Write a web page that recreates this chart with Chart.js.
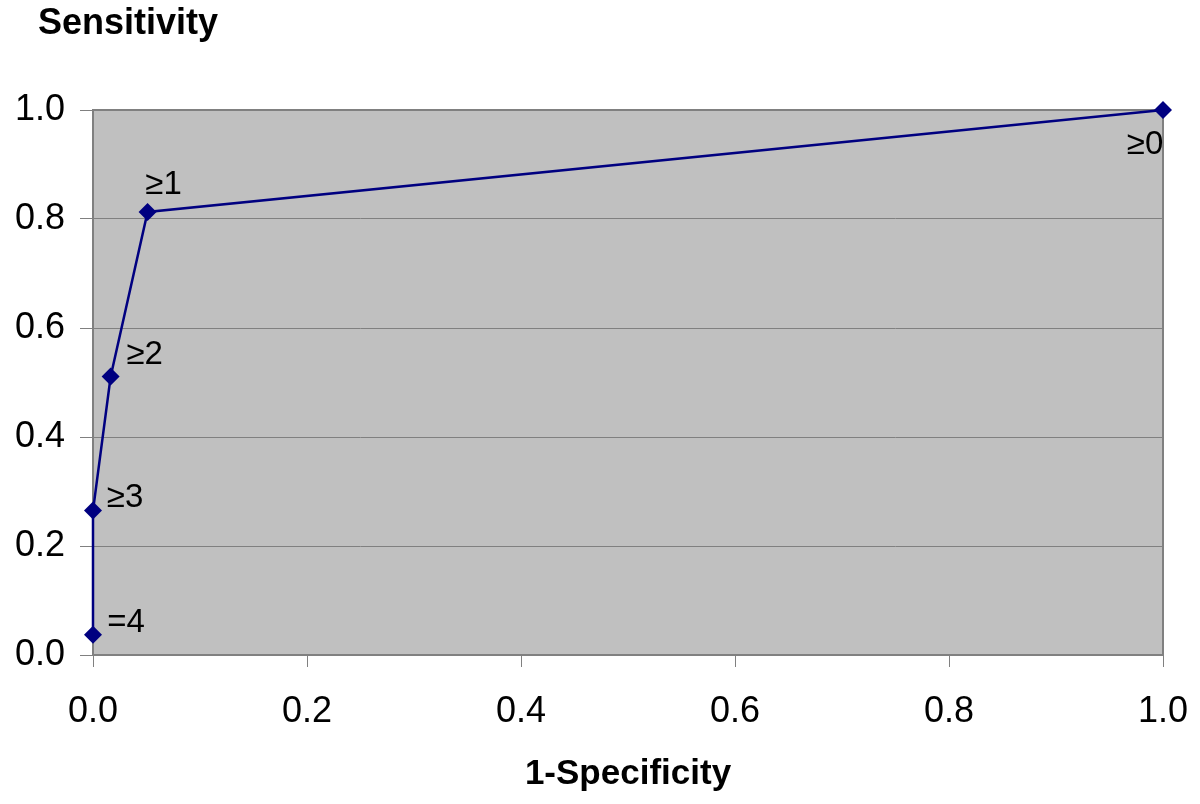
<!DOCTYPE html>
<html>
<head>
<meta charset="utf-8">
<script src="https://cdn.jsdelivr.net/npm/chart.js@4.4.1/dist/chart.umd.min.js"></script>
<style>
  html, body { margin: 0; padding: 0; background: #fff; overflow: hidden; }
  canvas { display: block; }
</style>
</head>
<body>
<canvas id="roc" width="1200" height="804"></canvas>
<script>
// ROC points: 1-specificity (x) vs sensitivity (y), one per cut-off
const cutoffs = ['=4', '≥3', '≥2', '≥1', '≥0'];
const fpr = [0.0, 0.0, 0.0165, 0.051, 1.0];
const tpr = [0.037, 0.265, 0.511, 0.813, 1.0];
const axisTicks = [0.0, 0.2, 0.4, 0.6, 0.8, 1.0];

const FONT = '"Liberation Sans", Arial, sans-serif';
const NAVY = '#000080';

// where each cut-off label sits relative to its point (px)
const labelOffsets = [[33, -12], [32, -13], [34, -22], [16, -27], [-18, 35]];

// grey plot area with a grey frame, drawn under the line
const plotBg = {
  id: 'plotBg',
  beforeDraw(c) {
    const { ctx, chartArea: a } = c;
    ctx.save();
    ctx.fillStyle = '#c0c0c0';
    ctx.fillRect(a.left, a.top, a.right - a.left, a.bottom - a.top);
    ctx.restore();
  },
  beforeDatasetsDraw(c) {
    const { ctx, chartArea: a } = c;
    ctx.save();
    ctx.strokeStyle = '#808080';
    ctx.lineWidth = 2;
    ctx.strokeRect(a.left, a.top, a.right - a.left, a.bottom - a.top);
    ctx.restore();
  }
};

const pointLabels = {
  id: 'pointLabels',
  afterDraw(c) {
    const { ctx, scales: { x, y } } = c;
    ctx.save();
    ctx.font = '33px ' + FONT;
    ctx.fillStyle = '#000';
    ctx.textAlign = 'center';
    ctx.textBaseline = 'middle';
    cutoffs.forEach((t, i) => {
      const [dx, dy] = labelOffsets[i];
      ctx.fillText(t, x.getPixelForValue(fpr[i]) + dx, y.getPixelForValue(tpr[i]) + dy);
    });
    // y axis title, horizontal above the plot
    ctx.font = 'bold 36px ' + FONT;
    ctx.textAlign = 'left';
    ctx.fillText('Sensitivity', 38, 24);
    ctx.restore();
  }
};

new Chart(document.getElementById('roc'), {
  type: 'scatter',
  data: {
    datasets: [{
      data: fpr.map((v, i) => ({ x: v, y: tpr[i] })),
      showLine: true,
      borderColor: NAVY,
      borderWidth: 2.5,
      backgroundColor: NAVY,
      pointStyle: 'rectRot',
      pointRadius: 9,
      pointBorderWidth: 0,
      clip: false
    }]
  },
  options: {
    responsive: false,
    animation: false,
    layout: { padding: { top: 110, right: 37, left: 0, bottom: 0 } },
    plugins: { legend: { display: false }, tooltip: { enabled: false } },
    scales: {
      x: {
        type: 'linear',
        min: 0, max: 1,
        afterBuildTicks: s => { s.ticks = axisTicks.map(v => ({ value: v })); },
        afterFit: s => { s.height = 149; s.paddingLeft = 0; s.paddingRight = 0; },
        grid: { drawOnChartArea: false, drawTicks: true, tickLength: 12, color: '#808080' },
        border: { display: false },
        ticks: {
          color: '#000', padding: 23,
          font: { family: FONT, size: 36 },
          callback: v => Number(v).toFixed(1)
        },
        title: {
          display: true, text: '1-Specificity', color: '#000',
          font: { family: FONT, size: 35, weight: 'bold' },
          padding: { top: 0, bottom: 9 }
        }
      },
      y: {
        type: 'linear',
        min: 0, max: 1,
        afterBuildTicks: s => { s.ticks = axisTicks.map(v => ({ value: v })); },
        afterFit: s => { s.width = 93; },
        grid: { drawOnChartArea: true, drawTicks: true, tickLength: 13, color: '#808080', lineWidth: 1 },
        border: { display: false },
        ticks: {
          color: '#000', padding: 15,
          font: { family: FONT, size: 36 },
          callback: v => Number(v).toFixed(1)
        }
      }
    }
  },
  plugins: [plotBg, pointLabels]
});
</script>
</body>
</html>
